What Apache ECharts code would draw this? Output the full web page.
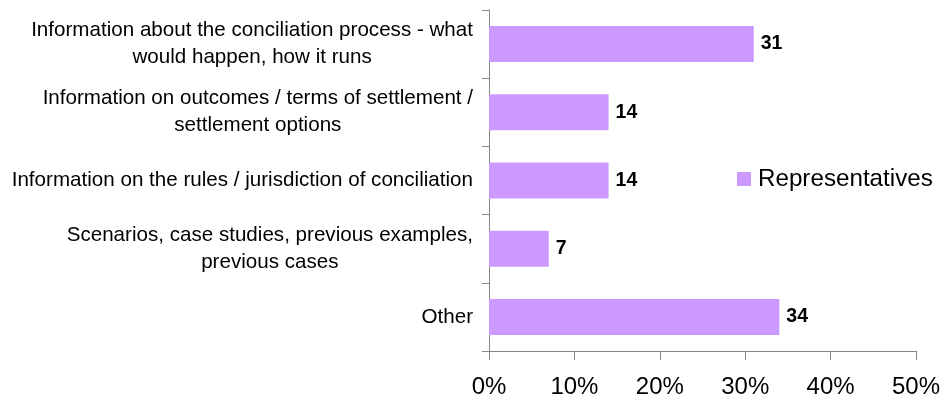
<!DOCTYPE html>
<html>
<head>
<meta charset="utf-8">
<script src="https://cdn.jsdelivr.net/npm/echarts@6/dist/echarts.min.js"></script>
<style>
  html, body { margin: 0; padding: 0; background: #fff; }
  #chart { width: 948px; height: 402px; }
</style>
</head>
<body>
<div id="chart"></div>
<script>
const categories = [
    "Information about the conciliation process - what\nwould happen, how it runs",
    "Information on outcomes / terms of settlement /\nsettlement options",
    "Information on the rules / jurisdiction of conciliation",
    "Scenarios, case studies, previous examples,\nprevious cases",
    "Other"
];
const representatives = [31, 14, 14, 7, 34];
const xTicks = { min: 0, max: 50, interval: 10 };

const font = "'Liberation Sans', Arial, sans-serif";
const chart = echarts.init(document.getElementById("chart"));

chart.setOption({
    animation: false,
    textStyle: { fontFamily: font },
    grid: { left: 489, right: 32, top: 10, bottom: 51 },
    legend: {
        data: ["Representatives"],
        left: 732,
        top: 162,
        icon: "rect",
        itemWidth: 14,
        itemHeight: 14,
        textStyle: { fontSize: 24.2, color: "#000", fontFamily: font, padding: [0, 0, 0, 2] }
    },
    xAxis: {
        type: "value",
        min: xTicks.min,
        max: xTicks.max,
        interval: xTicks.interval,
        axisLine: { show: true, lineStyle: { color: "#868686" } },
        axisTick: { show: true, length: 9, lineStyle: { color: "#868686" } },
        splitLine: { show: false },
        axisLabel: {
            formatter: "{value}%",
            fontSize: 24,
            color: "#000",
            margin: 24,
            fontFamily: font
        }
    },
    yAxis: {
        type: "category",
        data: categories,
        inverse: true,
        axisLine: { show: true, lineStyle: { color: "#868686" } },
        axisTick: { show: true, length: 7, lineStyle: { color: "#868686" } },
        axisLabel: {
            margin: 16,
            align: "right",
            formatter: (v) => v.split("\n").map((s) => "{c|" + s + "}").join("\n"),
            rich: {
                c: { fontSize: 20.6, lineHeight: 27, color: "#000", align: "center", fontFamily: font }
            }
        }
    },
    series: [
        {
            name: "Representatives",
            type: "bar",
            data: representatives,
            barWidth: 36,
            itemStyle: { color: "#CC99FF" },
            label: {
                show: true,
                position: "right",
                distance: 7,
                fontSize: 19.5,
                fontWeight: "bold",
                color: "#000",
                fontFamily: font
            }
        }
    ]
});
</script>
</body>
</html>
